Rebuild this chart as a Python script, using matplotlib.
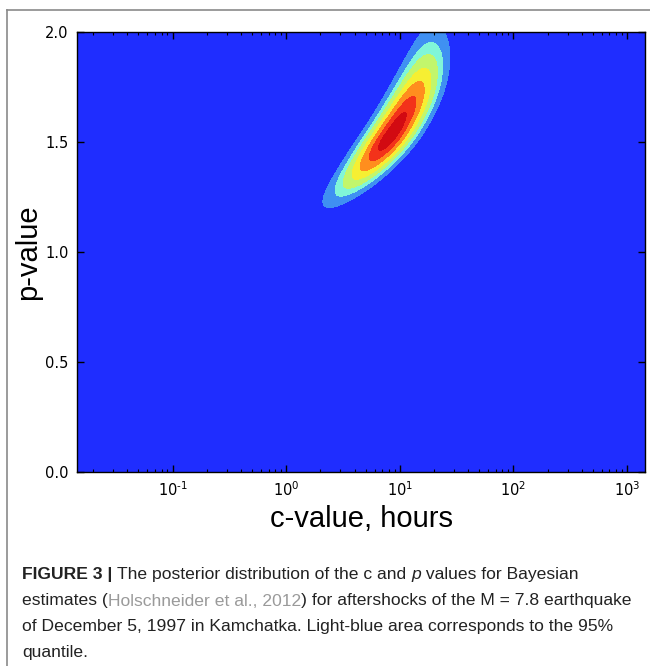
import numpy as np
import matplotlib
matplotlib.use("Agg")
import matplotlib.pyplot as plt
from matplotlib.lines import Line2D
from matplotlib.font_manager import FontProperties
from matplotlib.ticker import FuncFormatter

# shape of the posterior (log10 of c in hours, p)
peak_logc = 0.92
peak_p = 1.53
ridge_slope = 1.30
ridge_bend = -1.07
width_logc = 0.112
width_p_low = 0.134
width_p_high = 0.205

c_range = [0.0144, 1440.0]
p_range = [0.0, 2.0]
p_ticks = [0.0, 0.5, 1.0, 1.5, 2.0]

# outer level = 95 % region, relative to the peak
levels = [0.0, 0.05, 0.12, 0.2, 0.33, 0.49, 0.69, 0.88, 1.0]
band_colors = ["#1f2dff", "#3f90f2", "#80f6d8", "#c2f66c", "#f6ef32",
               "#ff8e1e", "#f3321a", "#d20a12"]

caption = [
    [("FIGURE 3 | ", "bold"), ("The posterior distribution of the c and ", "normal"),
     ("p", "italic"), (" values for Bayesian", "normal")],
    [("estimates (", "normal"), ("Holschneider et al., 2012", "link"),
     (") for aftershocks of the M = 7.8 earthquake", "normal")],
    [("of December 5, 1997 in Kamchatka. Light-blue area corresponds to the 95%", "normal")],
    [("quantile.", "normal")],
]

W, H = 650, 666
fig = plt.figure(figsize=(W / 100, H / 100), dpi=100)
ax = fig.add_axes([77 / W, 1 - 472 / H, 568 / W, 440 / H])

lc = np.linspace(np.log10(c_range[0]), np.log10(c_range[1]), 500)
pp = np.linspace(p_range[0], p_range[1], 400)
LC, P = np.meshgrid(lc, pp)
t = P - peak_p
ridge = peak_logc + ridge_slope * t + ridge_bend * t ** 2
sp = np.where(t < 0, width_p_low, width_p_high)
Z = np.exp(-0.5 * (t / sp) ** 2 - 0.5 * ((LC - ridge) / width_logc) ** 2)

ax.contourf(10 ** LC, P, Z, levels=levels, colors=band_colors)
ax.set_xscale("log")
ax.set_xlim(c_range)
ax.set_ylim(p_range)


def decade(v, pos):
    e = int(round(np.log10(v)))
    if e < 0:
        return r"$\mathdefault{10^{\text{-}%d}}$" % (-e)
    return r"$\mathdefault{10^{%d}}$" % e


ax.xaxis.set_major_formatter(FuncFormatter(decade))
ax.set_yticks(p_ticks)
ax.set_yticklabels(["%.1f" % v for v in p_ticks])
ax.tick_params(which="both", direction="in", top=True, right=True,
               labelsize=10.5, color="black")
ax.tick_params(which="major", length=5, width=1, pad=6)
ax.tick_params(which="minor", length=2.5, width=0.8)
for s in ax.spines.values():
    s.set_linewidth(1.0)

ax.set_xlabel("c-value, hours", fontsize=21, family="Liberation Sans", labelpad=4)
ax.set_ylabel("p-value", fontsize=21, family="Liberation Sans", labelpad=2)

# open frame round the figure
fig.add_artist(Line2D([7 / W, 7 / W], [0, 1 - 10 / H], color="#8a8a8a", lw=1.2))
fig.add_artist(Line2D([7 / W, 1], [1 - 10 / H, 1 - 10 / H], color="#8a8a8a", lw=1.2))

# caption, run by run
renderer = fig.canvas.get_renderer()
styles = {
    "normal": dict(weight="normal", style="normal", color="#222222"),
    "bold": dict(weight="bold", style="normal", color="#222222"),
    "italic": dict(weight="normal", style="italic", color="#222222"),
    "link": dict(weight="normal", style="normal", color="#9a9a9a"),
}
cap_size = 12.6
line_y = [575, 601, 627, 652]
for row, y in zip(caption, line_y):
    x = 22.0
    for s, st in row:
        kw = styles[st]
        prop = FontProperties(family="Liberation Sans", size=cap_size,
                              weight=kw["weight"], style=kw["style"])
        fig.text(x / W, 1 - y / H, s, fontproperties=prop, color=kw["color"],
                 va="center", ha="left")
        w1 = renderer.get_text_width_height_descent("|" + s + "|", prop, False)[0]
        w0 = renderer.get_text_width_height_descent("||", prop, False)[0]
        x += w1 - w0

fig.savefig("out.png", dpi=100)
